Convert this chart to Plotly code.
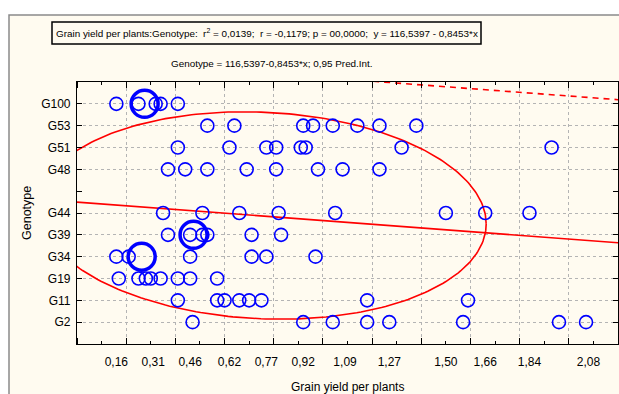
import numpy as np
import plotly.graph_objects as go

# ---------------- data ----------------
genotypes = ["G2", "G11", "G19", "G34", "G39", "G44", "G48", "G51", "G53", "G100"]
geno_pos = [1, 2, 3, 4, 5, 6, 8, 9, 10, 11]

yield_G2 = [0.47, 0.92, 1.04, 1.18, 1.27, 1.57, 1.96, 2.07]
yield_G11 = [0.41, 0.57, 0.60, 0.66, 0.70, 0.75, 1.18, 1.59]
yield_G19 = [0.17, 0.25, 0.28, 0.30, 0.34, 0.41, 0.46, 0.57]
yield_G34 = [0.16, 0.21, 0.46, 0.71, 0.77, 0.97]
yield_G39 = [0.37, 0.46, 0.51, 0.53, 0.71, 0.83]
yield_G44 = [0.35, 0.51, 0.66, 0.82, 1.05, 1.50, 1.66, 1.84]
yield_G48 = [0.37, 0.44, 0.53, 0.69, 0.81, 0.98, 1.08, 1.23]
yield_G51 = [0.41, 0.62, 0.77, 0.81, 0.91, 0.93, 1.32, 1.93]
yield_G53 = [0.53, 0.64, 0.92, 0.96, 1.04, 1.14, 1.23, 1.38]
yield_G100 = [0.16, 0.25, 0.32, 0.34, 0.41]

# overlapping (multiple) observations drawn as large circles
multi_geno = ["G100", "G39", "G34"]
multi_yield = [0.275, 0.474, 0.263]

x_tick_vals = [0.16, 0.31, 0.46, 0.62, 0.77, 0.92, 1.09, 1.27, 1.50, 1.66, 1.84, 2.08]
x_tick_text = ["0,16", "0,31", "0,46", "0,62", "0,77", "0,92", "1,09", "1,27", "1,50", "1,66", "1,84", "2,08"]

# regression line (in plotted genotype-position units) and bands
reg_intercept = 6.5
reg_slope = -0.8453
upper_band_offset = 6.55
# prediction region (ellipse) parameters
ell_cx, ell_cy = 0.753, 5.886
ell_rx, ell_cov, ell_ry = 0.911, -0.385, 4.734

title_text = ("Grain yield per plants:Genotype:  r<sup>2</sup> = 0,0139;  r = -0,1179; "
              "p = 00,0000;  y = 116,5397 - 0,8453*x")
subtitle_text = "Genotype = 116,5397-0,8453*x; 0,95 Pred.Int."

# ---------------- figure ----------------
FONT = "Liberation Sans, Arial, sans-serif"
W, H = 619, 394
L, R, T, B = 77, 1, 82, 50
pw, ph = W - L - R, H - T - B


def px_x(px):
    return (px - L) / pw


def px_y(py):
    return (H - B - py) / ph


series = [yield_G2, yield_G11, yield_G19, yield_G34, yield_G39,
          yield_G44, yield_G48, yield_G51, yield_G53, yield_G100]
pos_of = dict(zip(genotypes, geno_pos))

fig = go.Figure()

xr = np.linspace(0, 2.2, 50)
fig.add_trace(go.Scatter(x=xr, y=reg_intercept + reg_slope * xr, mode="lines",
                         line=dict(color="#ff0000", width=1.6), hoverinfo="skip"))
fig.add_trace(go.Scatter(x=xr, y=reg_intercept + reg_slope * xr + upper_band_offset, mode="lines",
                         line=dict(color="#ff0000", width=1.6, dash="6px,5px"), hoverinfo="skip"))
t = np.linspace(0, 2 * np.pi, 300)
fig.add_trace(go.Scatter(x=ell_cx + ell_rx * np.cos(t),
                         y=ell_cy + ell_cov * np.cos(t) + ell_ry * np.sin(t), mode="lines",
                         line=dict(color="#ff0000", width=1.6), hoverinfo="skip"))

xs, ys = [], []
for g, vals in zip(genotypes, series):
    xs += vals
    ys += [pos_of[g]] * len(vals)
fig.add_trace(go.Scatter(x=xs, y=ys, mode="markers",
                         marker=dict(symbol="circle-open", size=13, color="#0000ff",
                                     line=dict(width=1.6, color="#0000ff"))))
fig.add_trace(go.Scatter(x=multi_yield, y=[pos_of[g] for g in multi_geno], mode="markers",
                         marker=dict(symbol="circle-open", size=27, color="#0000ff",
                                     line=dict(width=3.5, color="#0000ff"))))
fig.add_trace(go.Scatter(x=[0], y=[0], xaxis="x2", mode="markers",
                         marker=dict(size=1, opacity=0), showlegend=False, hoverinfo="skip"))

fig.update_layout(
    width=W, height=H, margin=dict(l=L, r=R, t=T, b=B, pad=0),
    paper_bgcolor="white", plot_bgcolor="white", showlegend=False,
    font=dict(family=FONT, size=12, color="black"),
    xaxis=dict(range=[0, 2.2], tickmode="array", tickvals=x_tick_vals, ticktext=x_tick_text,
               ticks="", showgrid=False, zeroline=False, showline=True, linecolor="black",
               linewidth=1.2, mirror="ticks", ticklabelstandoff=6,
               tickfont=dict(family=FONT, size=12),
               minor=dict(tickmode="linear", tick0=0, dtick=0.2, showgrid=True, griddash="dot",
                          gridcolor="#b4b4b4", gridwidth=1, ticks="inside", ticklen=6,
                          tickcolor="black")),
    xaxis2=dict(range=[0, 2.2], overlaying="x", anchor="y", side="bottom", tickmode="linear",
                tick0=0, dtick=0.1, ticks="inside", ticklen=3, tickcolor="black",
                showticklabels=False, showgrid=False, zeroline=False, showline=False,
                mirror="ticks"),
    yaxis=dict(range=[0, 12], tickmode="array", tickvals=geno_pos, ticktext=genotypes,
               ticks="inside", ticklen=5, tickcolor="black", showgrid=True, griddash="dot",
               gridcolor="#b4b4b4", gridwidth=1, zeroline=False, showline=True,
               linecolor="black", linewidth=1.2, mirror="ticks", ticklabelstandoff=3,
               tickfont=dict(family=FONT, size=12),
               minor=dict(tickmode="linear", tick0=0, dtick=1, ticks="inside", ticklen=5,
                          tickcolor="black", showgrid=False)),
)

shapes = [
    dict(type="rect", xref="paper", yref="paper", layer="below",
         x0=px_x(9), x1=px_x(640), y0=px_y(420), y1=px_y(15),
         fillcolor="#fffbf0", line=dict(color="#8a8a8a", width=1.5)),
    dict(type="rect", xref="paper", yref="paper",
         x0=px_x(52), x1=px_x(481), y0=px_y(44), y1=px_y(22),
         fillcolor="rgba(0,0,0,0)", line=dict(color="black", width=1.5)),
]
fig.update_layout(shapes=shapes)

ann = [
    dict(text=title_text, x=px_x(266.5), y=px_y(33), xref="paper", yref="paper",
         showarrow=False, xanchor="center", yanchor="middle", font=dict(size=9.9)),
    dict(text=subtitle_text, x=px_x(272), y=px_y(63), xref="paper", yref="paper",
         showarrow=False, xanchor="center", yanchor="middle", font=dict(size=9.9)),
    dict(text="Grain yield per plants", x=px_x(347), y=px_y(387), xref="paper", yref="paper",
         showarrow=False, xanchor="center", yanchor="middle", font=dict(size=12)),
    dict(text="Genotype", x=px_x(27), y=px_y(213), xref="paper", yref="paper",
         showarrow=False, xanchor="center", yanchor="middle", textangle=-90,
         font=dict(size=12.5)),
]
fig.update_layout(annotations=ann)

fig.write_html("out.html")
